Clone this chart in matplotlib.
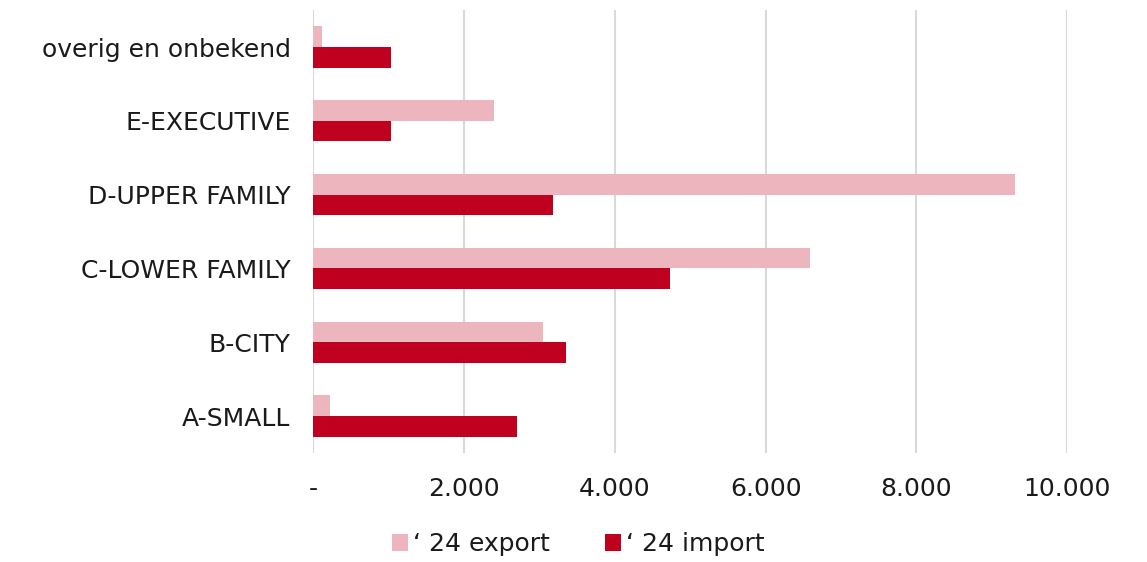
import matplotlib
matplotlib.use("Agg")
import matplotlib.pyplot as plt
import matplotlib.ticker as mticker
import numpy as np

plt.rcParams['font.family'] = ['DejaVu Sans']

# data, top to bottom
categories = ["overig en onbekend", "E-EXECUTIVE", "D-UPPER FAMILY",
              "C-LOWER FAMILY", "B-CITY", "A-SMALL"]
export_24 = [115, 2400, 9310, 6595, 3050, 220]
import_24 = [1030, 1030, 3180, 4735, 3355, 2705]
series_names = ["\u2018 24 export", "\u2018 24 import"]
x_ticks = [0, 2000, 4000, 6000, 8000, 10000]

col_export = "#EDB5BE"
col_import = "#C0001F"
txt_col = "#1a1a1a"
fs = 18

fig = plt.figure(figsize=(11.47, 5.62), dpi=100)
ax = fig.add_axes([0.2733, 0.194, 0.657, 0.788])

pos = np.arange(len(categories))
h = 0.28
ax.barh(pos - h / 2, export_24, height=h, color=col_export, label=series_names[0], zorder=2)
ax.barh(pos + h / 2, import_24, height=h, color=col_import, label=series_names[1], zorder=2)

ax.set_ylim(len(categories) - 0.5, -0.5)
ax.set_yticks(pos)
ax.set_yticklabels(categories, fontsize=fs, color=txt_col)
ax.set_xlim(0, 10000)
ax.set_xticks(x_ticks)


def fmt(v, p):
    if v == 0:
        return "-"
    return "{:,.0f}".format(v).replace(",", ".")


ax.xaxis.set_major_formatter(mticker.FuncFormatter(fmt))
ax.tick_params(axis="x", labelsize=fs, colors=txt_col, length=0, pad=17)
ax.tick_params(axis="y", length=0, pad=16.5)
ax.grid(axis="x", color="#d9d9d9", lw=1.5, zorder=0)
for s in ax.spines.values():
    s.set_visible(False)

ax.legend(loc="center", bbox_to_anchor=(0.504, 0.032), bbox_transform=fig.transFigure,
          ncol=2, frameon=False, fontsize=fs, handlelength=0.65, handleheight=0.65,
          handletextpad=0.2, columnspacing=2.2, labelcolor=txt_col)

fig.savefig("out.png", dpi=100)
